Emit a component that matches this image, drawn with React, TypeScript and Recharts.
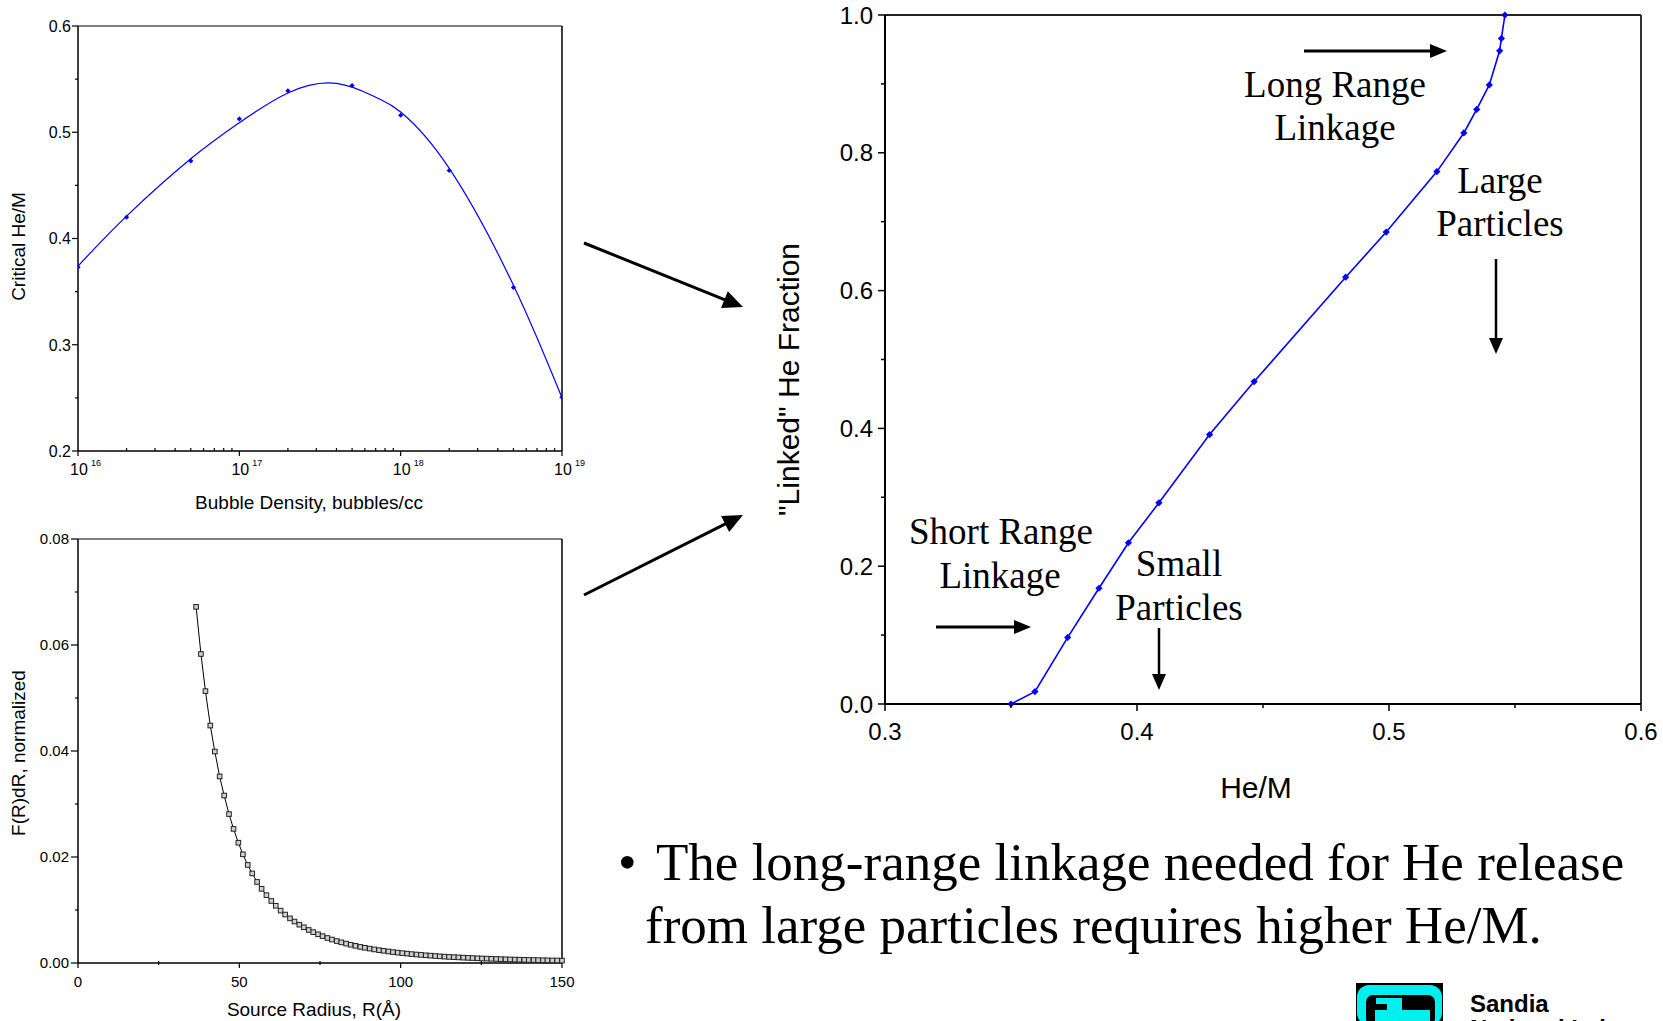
import React from 'react';
import { ComposedChart, Line, Scatter, XAxis, YAxis, ReferenceLine } from 'recharts';

const SANS = '"Liberation Sans", Arial, sans-serif';
const SERIF = '"Liberation Serif", "Times New Roman", serif';

// top-left: critical He/M against bubble density
const bubbleDensity = [1e16, 2e16, 5e16, 1e17, 2e17, 5e17, 1e18, 2e18, 5e18, 1e19];
const criticalHeM = [0.373, 0.42, 0.473, 0.5125, 0.539, 0.544, 0.516, 0.464, 0.354, 0.2505];
const fitDensity = [1e16, 2e16, 5e16, 1e17, 2e17, 4e17, 7e17, 1e18, 2e18, 5e18, 1e19];
const fitHeM = [0.374, 0.421, 0.475, 0.509, 0.537, 0.546, 0.533, 0.519, 0.466, 0.356, 0.25];
const densityMajor = [1e16, 1e17, 1e18, 1e19];
const densityMinor = [2e16, 3e16, 4e16, 5e16, 6e16, 7e16, 8e16, 9e16, 2e17, 3e17, 4e17, 5e17, 6e17, 7e17, 8e17, 9e17, 2e18, 3e18, 4e18, 5e18, 6e18, 7e18, 8e18, 9e18];
const hemMajor = [0.2, 0.3, 0.4, 0.5, 0.6];
const hemMinor = [0.25, 0.35, 0.45, 0.55];

// bottom-left: size distribution
const sourceRadius = [
  36.6, 38.1, 39.5, 41.0, 42.4, 43.9, 45.3, 46.8, 48.2, 49.7,
  51.1, 52.6, 54.0, 55.5, 56.9, 58.4, 59.9, 61.3, 62.8, 64.2,
  65.7, 67.1, 68.6, 70.0, 71.5, 72.9, 74.4, 75.8, 77.3, 78.7,
  80.2, 81.6, 83.1, 84.5, 86.0, 87.5, 88.9, 90.4, 91.8, 93.3,
  94.7, 96.2, 97.6, 99.1, 100.5, 102.0, 103.4, 104.9, 106.3, 107.8,
  109.2, 110.7, 112.1, 113.6, 115.0, 116.5, 117.9, 119.4, 120.9, 122.3,
  123.8, 125.2, 126.7, 128.1, 129.6, 131.0, 132.5, 133.9, 135.4, 136.8,
  138.3, 139.7, 141.2, 142.6, 144.1, 145.5, 147.0, 148.5, 150.0,
];
const frdr = [
  0.0672, 0.0583, 0.0513, 0.0448, 0.0399, 0.0352, 0.0316, 0.0281, 0.0253, 0.0227,
  0.0205, 0.0185, 0.0169, 0.0153, 0.014, 0.0128, 0.0117, 0.0108, 0.00988, 0.00914,
  0.00842, 0.00782, 0.00723, 0.00674, 0.00623, 0.00582, 0.00542, 0.00507, 0.00472, 0.00443,
  0.00414, 0.0039, 0.00366, 0.00344, 0.00324, 0.00304, 0.00287, 0.00272, 0.00256, 0.00242,
  0.0023, 0.00218, 0.00206, 0.00196, 0.00186, 0.00177, 0.00168, 0.0016, 0.00153, 0.00145,
  0.00139, 0.00132, 0.00126, 0.0012, 0.00115, 0.0011, 0.00106, 0.00101, 0.00097, 0.00093,
  0.00089, 0.00085, 0.00082, 0.00079, 0.00076, 0.00073, 0.0007, 0.00067, 0.00065, 0.00062,
  0.0006, 0.00058, 0.00056, 0.00054, 0.00052, 0.0005, 0.00048, 0.00047, 0.00045,
];
const radiusMajor = [0, 50, 100, 150];
const radiusMinor = [25, 75, 125];
const frdrMajor = [0, 0.02, 0.04, 0.06, 0.08];
const frdrMinor = [0.01, 0.03, 0.05, 0.07];

// right: linked He fraction against He/M
const heOverM = [0.35, 0.3595, 0.3725, 0.3849, 0.3966, 0.4087, 0.4288, 0.4465, 0.4828, 0.4989, 0.519, 0.5297, 0.5348, 0.5398, 0.5439, 0.5446, 0.546];
const linkedFraction = [0, 0.018, 0.0966, 0.168, 0.234, 0.292, 0.391, 0.468, 0.6195, 0.685, 0.7727, 0.8288, 0.863, 0.8985, 0.948, 0.966, 1.0];
const heMajor = [0.3, 0.4, 0.5, 0.6];
const heMinor = [0.35, 0.45, 0.55];
const fracMajor = [0, 0.2, 0.4, 0.6, 0.8, 1.0];
const fracMinor = [0.1, 0.3, 0.5, 0.7, 0.9];

const bubblePoints = bubbleDensity.map((x, i) => ({ x, y: criticalHeM[i] }));
const fitPoints = fitDensity.map((x, i) => ({ x, y: fitHeM[i] }));
const radiusData = sourceRadius.map((x, i) => ({ x, y: frdr[i] }));
const linkedData = heOverM.map((x, i) => ({ x, y: linkedFraction[i] }));

const allTicks = (a: number[], b: number[]) => [...a, ...b].sort((p, q) => p - q);
const near = (v: number, list: number[]) => list.some((m) => Math.abs(v - m) <= Math.abs(m) * 1e-6 + 1e-9);
const diamond = (cx: number, cy: number, r: number) => `M${cx},${cy - r}L${cx + r},${cy}L${cx},${cy + r}L${cx - r},${cy}Z`;

function XTick(props: any) {
  const { x, y, payload, majors, majorLen, minorUp, minorDown, render, sw } = props;
  const major = near(payload.value, majors);
  return (
    <g>
      {major ? (
        <line x1={x} x2={x} y1={y} y2={y + majorLen} stroke="#000" strokeWidth={sw} />
      ) : (
        <line x1={x} x2={x} y1={y - minorUp} y2={y + minorDown} stroke="#000" strokeWidth={sw} />
      )}
      {major ? render(payload.value, x, y) : null}
    </g>
  );
}

function YTick(props: any) {
  const { x, y, payload, majors, majorLen, minorLen, fmt, fontSize, gap, sw } = props;
  const major = near(payload.value, majors);
  return (
    <g>
      <line x1={x - (major ? majorLen : minorLen)} x2={x} y1={y} y2={y} stroke="#000" strokeWidth={sw} />
      {major ? (
        <text x={x - majorLen - gap} y={y} dy="0.36em" textAnchor="end" fontSize={fontSize} fontFamily={SANS} fill="#000">
          {fmt(payload.value)}
        </text>
      ) : null}
    </g>
  );
}

const xTitle = (text: string, size: number, dx: number, base: number) => (p: any) => {
  const vb = p.viewBox;
  if (!vb) return null;
  return (
    <text x={vb.x + vb.width / 2 + dx} y={vb.y + base} textAnchor="middle" fontSize={size} fontFamily={SANS} fill="#000">
      {text}
    </text>
  );
};

const yTitle = (text: string, size: number, cxOff: number, dy: number) => (p: any) => {
  const vb = p.viewBox;
  if (!vb) return null;
  const cx = vb.x + cxOff;
  const cy = vb.y + vb.height / 2 + dy;
  return (
    <text x={cx} y={cy} dy="0.36em" textAnchor="middle" transform={`rotate(-90, ${cx}, ${cy})`} fontSize={size} fontFamily={SANS} fill="#000">
      {text}
    </text>
  );
};

function Arrow({ x1, y1, x2, y2, w = 3, head = 18, half = 8 }: any) {
  const dx = x2 - x1;
  const dy = y2 - y1;
  const len = Math.hypot(dx, dy);
  const ux = dx / len;
  const uy = dy / len;
  const bx = x2 - ux * head;
  const by = y2 - uy * head;
  return (
    <g>
      <line x1={x1} y1={y1} x2={bx + ux * 2} y2={by + uy * 2} stroke="#000" strokeWidth={w} />
      <polygon points={`${x2},${y2} ${bx - uy * half},${by + ux * half} ${bx + uy * half},${by - ux * half}`} fill="#000" />
    </g>
  );
}

function BubbleChart() {
  return (
    <ComposedChart width={600} height={530} margin={{ top: 26, right: 38, left: 0, bottom: 0 }}>
      <XAxis
        type="number"
        dataKey="x"
        scale="log"
        domain={[1e16, 1e19]}
        allowDataOverflow
        ticks={allTicks(densityMajor, densityMinor)}
        interval={0}
        tickLine={false}
        tickSize={0}
        tickMargin={0}
        height={79}
        axisLine={{ stroke: '#000', strokeWidth: 1.5 }}
        tick={
          <XTick
            majors={densityMajor}
            majorLen={5}
            minorUp={3}
            minorDown={0}
            sw={1.2}
            render={(v: number, x: number, y: number) => (
              <g fontFamily={SANS} fill="#000">
                <text x={x + 1} y={y + 24} textAnchor="middle" fontSize={16}>10</text>
                <text x={x + 13} y={y + 15} fontSize={9}>{Math.round(Math.log10(v))}</text>
              </g>
            )}
          />
        }
        label={{ content: xTitle('Bubble Density, bubbles/cc', 19, -11, 58) }}
      />
      <YAxis
        type="number"
        dataKey="y"
        domain={[0.2, 0.6]}
        ticks={allTicks(hemMajor, hemMinor)}
        interval={0}
        width={78}
        tickLine={false}
        tickSize={0}
        tickMargin={0}
        axisLine={{ stroke: '#000', strokeWidth: 1.5 }}
        tick={<YTick majors={hemMajor} majorLen={6} minorLen={3} gap={1} fontSize={16} sw={1.2} fmt={(v: number) => v.toFixed(1)} />}
        label={{ content: yTitle('Critical He/M', 19, 18, 8) }}
      />
      <ReferenceLine y={0.6} stroke="#808080" strokeWidth={2} />
      <ReferenceLine x={1e19} stroke="#000" strokeWidth={1.5} />
      <Line data={fitPoints} dataKey="y" type="natural" stroke="#0000ff" strokeWidth={1.2} dot={false} isAnimationActive={false} />
      <Scatter
        data={bubblePoints}
        dataKey="y"
        fill="#0000ff"
        isAnimationActive={false}
        shape={(p: any) => <path d={diamond(p.cx, p.cy, 2.6)} fill="#0000ff" />}
      />
    </ComposedChart>
  );
}

function RadiusChart() {
  return (
    <ComposedChart width={600} height={501} data={radiusData} margin={{ top: 19, right: 38, left: 0, bottom: 0 }}>
      <XAxis
        type="number"
        dataKey="x"
        domain={[0, 150]}
        ticks={allTicks(radiusMajor, radiusMinor)}
        interval={0}
        tickLine={false}
        tickSize={0}
        tickMargin={0}
        height={58}
        axisLine={{ stroke: '#000', strokeWidth: 1.5 }}
        tick={
          <XTick
            majors={radiusMajor}
            majorLen={5}
            minorUp={2}
            minorDown={2}
            sw={1.2}
            render={(v: number, x: number, y: number) => (
              <text x={x} y={y + 24} textAnchor="middle" fontSize={15} fontFamily={SANS} fill="#000">{v}</text>
            )}
          />
        }
        label={{ content: xTitle('Source Radius, R(Å)', 19, -6, 53) }}
      />
      <YAxis
        type="number"
        dataKey="y"
        domain={[0, 0.08]}
        ticks={allTicks(frdrMajor, frdrMinor)}
        interval={0}
        width={78}
        tickLine={false}
        tickSize={0}
        tickMargin={0}
        axisLine={{ stroke: '#000', strokeWidth: 1.5 }}
        tick={<YTick majors={frdrMajor} majorLen={7} minorLen={3} gap={2} fontSize={15} sw={1.2} fmt={(v: number) => v.toFixed(2)} />}
        label={{ content: yTitle('F(R)dR, normalized', 19, 18, 2) }}
      />
      <ReferenceLine y={0.08} stroke="#808080" strokeWidth={2} />
      <ReferenceLine x={150} stroke="#000" strokeWidth={1.5} />
      <Line
        dataKey="y"
        type="linear"
        stroke="#000"
        strokeWidth={1}
        isAnimationActive={false}
        dot={(p: any) => (
          <rect key={`r${p.index}`} x={p.cx - 2.3} y={p.cy - 2.3} width={4.6} height={4.6} fill="#d0d0d0" stroke="#222" strokeWidth={1} />
        )}
      />
    </ComposedChart>
  );
}

function LinkedChart() {
  return (
    <ComposedChart width={903} height={820} data={linkedData} margin={{ top: 15, right: 22, left: 0, bottom: 0 }}>
      <XAxis
        type="number"
        dataKey="x"
        domain={[0.3, 0.6]}
        ticks={allTicks(heMajor, heMinor)}
        interval={0}
        tickLine={false}
        tickSize={0}
        tickMargin={0}
        height={116}
        axisLine={{ stroke: '#000', strokeWidth: 2 }}
        tick={
          <XTick
            majors={heMajor}
            majorLen={7}
            minorUp={0}
            minorDown={4}
            sw={1.5}
            render={(v: number, x: number, y: number) => (
              <text x={x} y={y + 36} textAnchor="middle" fontSize={24} fontFamily={SANS} fill="#000">{v.toFixed(1)}</text>
            )}
          />
        }
        label={{ content: xTitle('He/M', 30, -7, 94) }}
      />
      <YAxis
        type="number"
        dataKey="y"
        domain={[0, 1]}
        ticks={allTicks(fracMajor, fracMinor)}
        interval={0}
        width={125}
        tickLine={false}
        tickSize={0}
        tickMargin={0}
        axisLine={{ stroke: '#000', strokeWidth: 2 }}
        tick={<YTick majors={fracMajor} majorLen={7} minorLen={4} gap={5} fontSize={24} sw={1.5} fmt={(v: number) => v.toFixed(1)} />}
        label={{ content: yTitle('"Linked" He Fraction', 30, 28, 20) }}
      />
      <ReferenceLine y={1} stroke="#222" strokeWidth={2} />
      <ReferenceLine x={0.6} stroke="#333" strokeWidth={2} />
      <Line
        dataKey="y"
        type="linear"
        stroke="#0000ff"
        strokeWidth={1.6}
        isAnimationActive={false}
        dot={(p: any) => <path key={`d${p.index}`} d={diamond(p.cx, p.cy, 3.6)} fill="#0000ff" />}
      />
    </ComposedChart>
  );
}

export default function App() {
  return (
    <div style={{ position: 'absolute', left: 0, top: 0, width: 1663, height: 1021, overflow: 'hidden', background: '#fff' }}>
      <div style={{ position: 'absolute', left: 0, top: 0 }}>
        <BubbleChart />
      </div>
      <div style={{ position: 'absolute', left: 0, top: 520 }}>
        <RadiusChart />
      </div>
      <div style={{ position: 'absolute', left: 760, top: 0 }}>
        <LinkedChart />
      </div>
      <svg width={1663} height={1021} style={{ position: 'absolute', left: 0, top: 0, pointerEvents: 'none' }}>
        <Arrow x1={584} y1={243} x2={743} y2={307} w={3} head={20} half={9} />
        <Arrow x1={584} y1={595} x2={743} y2={515} w={3} head={20} half={9} />

        <Arrow x1={1304} y1={51} x2={1447} y2={51} w={3} head={17} half={7} />
        <Arrow x1={1496} y1={259} x2={1496} y2={354} w={2.5} head={16} half={7} />
        <Arrow x1={936} y1={627} x2={1031} y2={627} w={3} head={17} half={7} />
        <Arrow x1={1159} y1={628} x2={1159} y2={690} w={2.5} head={16} half={7} />

        <g fontFamily={SERIF} fontSize={37} fill="#000" textAnchor="middle">
          <text x={1335} y={97}>Long Range</text>
          <text x={1335} y={140}>Linkage</text>
          <text x={1500} y={193}>Large</text>
          <text x={1500} y={236}>Particles</text>
          <text x={1001} y={544}>Short Range</text>
          <text x={1000} y={588}>Linkage</text>
          <text x={1179} y={576}>Small</text>
          <text x={1179} y={620}>Particles</text>
        </g>

        <g fontFamily={SERIF} fontSize={53} fill="#000">
          <text x={618} y={880}>•</text>
          <text x={656} y={880}>The long-range linkage needed for He release</text>
          <text x={645} y={943}>from large particles requires higher He/M.</text>
        </g>

        <g>
          <rect x={1356} y={983} width={87} height={40} fill="#000" />
          <rect x={1357} y={985} width={85} height={40} rx={12} fill="#00f0f0" />
          <rect x={1366} y={995} width={69} height={30} rx={7} fill="#000" />
          <rect x={1376} y={998} width={26} height={6} fill="#00f0f0" />
          <rect x={1387} y={998} width={15} height={13} fill="#00f0f0" />
          <rect x={1375} y={1010} width={55} height={14} fill="#00f0f0" />
        </g>
        <text x={1470} y={1012} fontFamily={SANS} fontWeight="bold" fontSize={24} fill="#000">Sandia</text>
        <text x={1470} y={1037} fontFamily={SANS} fontWeight="bold" fontSize={24} fill="#000">National Laboratories</text>
      </svg>
    </div>
  );
}
